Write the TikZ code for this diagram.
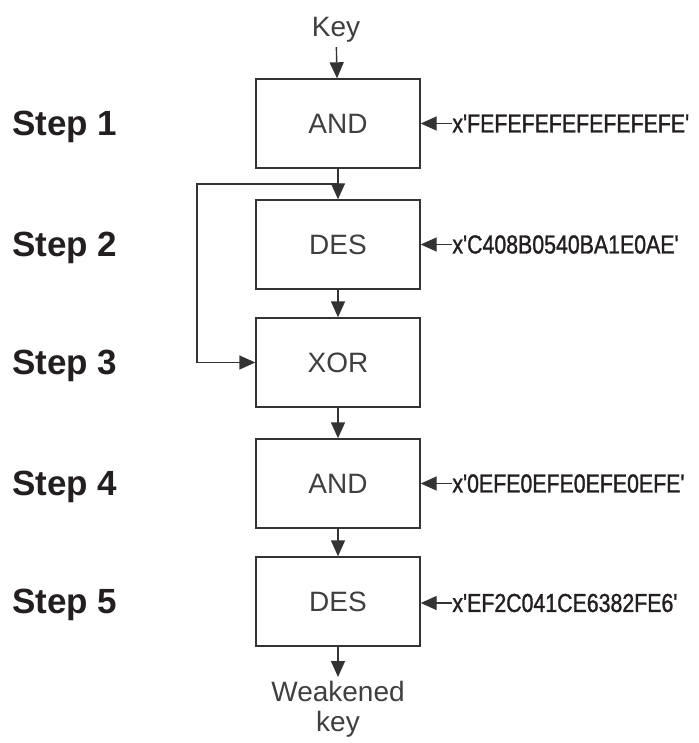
\documentclass[tikz,border=0pt]{standalone}
\usepackage{fontspec}
\setmainfont{Liberation Sans}
\newfontfamily\hexfont[FakeStretch=0.82,FakeBold=1.2]{Liberation Sans}
\usetikzlibrary{arrows.meta}
\definecolor{linegray}{HTML}{333333}
\definecolor{textgray}{HTML}{3F3F3F}
\definecolor{stepblack}{HTML}{231F20}
\begin{document}
\begin{tikzpicture}[x=0.5pt,y=-0.5pt,
  opbox/.style={draw=linegray, line width=0.7pt, minimum width=82pt, minimum height=44.5pt,
    inner sep=0pt, font=\fontsize{14}{16}\selectfont, text=textgray},
  arr/.style={-{Triangle[length=8pt,width=7pt]}, draw=linegray, line width=0.7pt},
  steplbl/.style={anchor=base west, font=\fontsize{17.5}{20}\selectfont\bfseries, text=stepblack, inner sep=0pt},
  hexlbl/.style={anchor=west, font=\hexfont\fontsize{13}{14}\selectfont, text=stepblack, inner sep=0pt},
  iolbl/.style={font=\fontsize{14}{15}\selectfont, text=textgray, inner sep=2pt, align=center}]
\useasboundingbox (0,0) rectangle (699,743);

\node[opbox] (b1) at (338,123.5) {AND};
\node[opbox] (b2) at (338,244.5) {DES};
\node[opbox] (b3) at (338,362.5) {XOR};
\node[opbox] (b4) at (338,483.5) {AND};
\node[opbox] (b5) at (338,601.5) {DES};

\node[iolbl, anchor=base] (key) at (336,37) {Key};
\node[iolbl, anchor=north] (wk) at (338,677) {Weakened\\key};

\node[steplbl] (s1) at (12,135.5) {Step 1};
\node[steplbl] (s2) at (12,256.5) {Step 2};
\node[steplbl] (s3) at (12,374.5) {Step 3};
\node[steplbl] (s4) at (12,495.5) {Step 4};
\node[steplbl] (s5) at (12,613.5) {Step 5};

\node[hexlbl] (h1) at (452,123.5) {x'FEFEFEFEFEFEFEFE'};
\node[hexlbl] (h2) at (452,244.5) {x'C408B0540BA1E0AE'};
\node[hexlbl] (h4) at (452,483.5) {x'0EFE0EFE0EFE0EFE'};
\node[hexlbl] (h5) at (452,603) {x'EF2C041CE6382FE6'};

\draw[arr] (key) -- (b1);
\draw[arr] (b1) -- (b2);
\draw[arr] (b2) -- (b3);
\draw[arr] (b3) -- (b4);
\draw[arr] (b4) -- (b5);
\draw[arr] (b5) -- (wk);

\coordinate (split) at (338,184);
\coordinate (fb) at (197,184);
\draw[arr] (split) -- (fb) |- (b3.west);

\draw[arr] (h1.west) -- (h1.west -| b1.east);
\draw[arr] (h2.west) -- (h2.west -| b2.east);
\draw[arr] (h4.west) -- (h4.west -| b4.east);
\draw[arr] (h5.west) -- (h5.west -| b5.east);
\end{tikzpicture}
\end{document}
